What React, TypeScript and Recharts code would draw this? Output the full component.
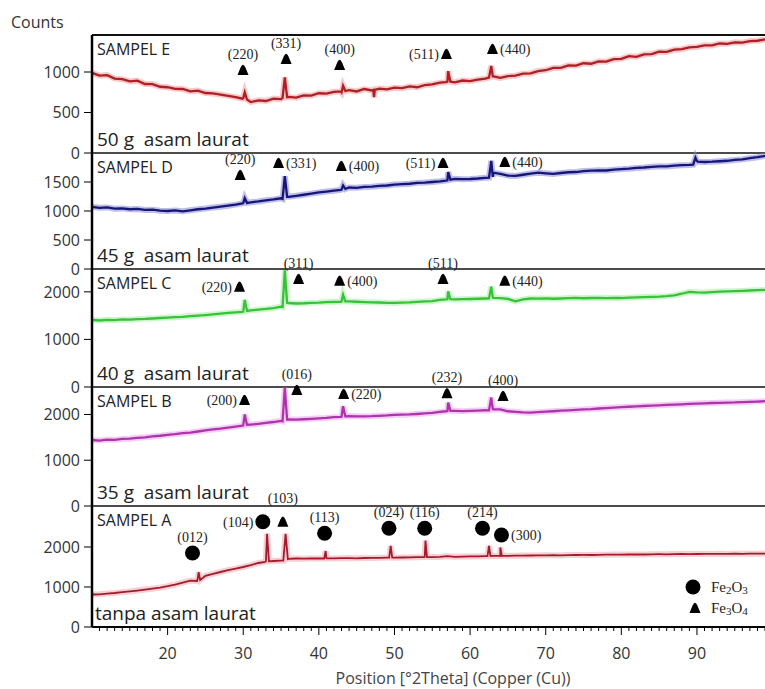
import React from "react";
import { ComposedChart, Line, Scatter, XAxis, YAxis, ReferenceLine } from "recharts";

// 2θ grid of the background readings (degrees)
const theta = [
  10, 11, 12, 13, 14, 15, 16, 17, 18, 19,
  20, 21, 22, 23, 24, 25, 26, 27, 28, 29,
  30, 31, 32, 33, 34, 35, 36, 37, 38, 39,
  40, 41, 42, 43, 44, 45, 46, 47, 48, 49,
  50, 51, 52, 53, 54, 55, 56, 57, 58, 59,
  60, 61, 62, 63, 64, 65, 66, 67, 68, 69,
  70, 71, 72, 73, 74, 75, 76, 77, 78, 79,
  80, 81, 82, 83, 84, 85, 86, 87, 88, 89,
  90, 91, 92, 93, 94, 95, 96, 97, 98, 99,
];

// background counts, one per theta value
const countsE = [
  990, 955, 962, 918, 912, 884, 893, 852, 851, 818,
  812, 792, 790, 762, 770, 741, 735, 722, 705, 690,
  676, 628, 650, 642, 672, 665, 692, 683, 712, 708,
  738, 734, 756, 748, 775, 760, 790, 772, 795, 786,
  806, 800, 822, 812, 838, 846, 868, 882, 872, 895,
  888, 906, 918, 945, 928, 948, 955, 980, 982, 1012,
  1022, 1050, 1052, 1082, 1078, 1108, 1102, 1132, 1128, 1158,
  1162, 1195, 1188, 1218, 1222, 1250, 1248, 1276, 1282, 1305,
  1310, 1330, 1328, 1352, 1348, 1366, 1362, 1382, 1386, 1402,
];
const countsD = [
  1072, 1055, 1062, 1040, 1045, 1030, 1036, 1018, 1022, 1005,
  1000, 1010, 995, 1012, 1030, 1042, 1060, 1075, 1092, 1110,
  1135, 1150, 1165, 1185, 1200, 1220, 1245, 1262, 1280, 1300,
  1320, 1335, 1350, 1370, 1405, 1400, 1415, 1420, 1432, 1440,
  1455, 1462, 1470, 1485, 1490, 1500, 1512, 1530, 1555, 1548,
  1552, 1560, 1572, 1590, 1640, 1610, 1605, 1625, 1645, 1660,
  1650, 1640, 1655, 1668, 1672, 1688, 1695, 1702, 1698, 1712,
  1722, 1730, 1742, 1750, 1762, 1770, 1768, 1782, 1790, 1795,
  1860, 1845, 1850, 1858, 1866, 1880, 1890, 1910, 1928, 1950,
];
const countsC = [
  1410, 1398, 1412, 1405, 1420, 1415, 1428, 1432, 1440, 1450,
  1460, 1468, 1475, 1490, 1502, 1512, 1525, 1540, 1556, 1570,
  1585, 1610, 1625, 1640, 1660, 1690, 1765, 1755, 1760, 1770,
  1775, 1785, 1790, 1800, 1798, 1792, 1785, 1780, 1776, 1770,
  1768, 1775, 1780, 1790, 1798, 1805, 1830, 1845, 1840, 1845,
  1850, 1855, 1860, 1880, 1868, 1850, 1800, 1840, 1860, 1858,
  1862, 1855, 1860, 1868, 1872, 1865, 1870, 1875, 1868, 1872,
  1870, 1878, 1885, 1890, 1895, 1900, 1910, 1925, 1960, 2000,
  1990, 1985, 1995, 2005, 2010, 2015, 2020, 2028, 2035, 2040,
];
const countsB = [
  1442, 1430, 1450, 1445, 1465, 1470, 1490, 1500, 1520, 1535,
  1555, 1570, 1590, 1605, 1628, 1650, 1672, 1690, 1712, 1735,
  1760, 1780, 1795, 1815, 1835, 1860, 1890, 1888, 1895, 1905,
  1915, 1925, 1940, 1950, 1965, 1960, 1958, 1962, 1970, 1978,
  1990, 1995, 2000, 2010, 2022, 2035, 2055, 2075, 2080, 2072,
  2080, 2085, 2092, 2120, 2110, 2070, 2058, 2045, 2040, 2050,
  2060, 2070, 2082, 2090, 2100, 2110, 2118, 2130, 2140, 2150,
  2160, 2168, 2175, 2185, 2192, 2200, 2208, 2215, 2222, 2230,
  2238, 2244, 2250, 2255, 2260, 2262, 2268, 2275, 2282, 2290,
];
const countsA = [
  812, 818, 835, 850, 872, 890, 912, 935, 958, 985,
  1020, 1060, 1110, 1160, 1230, 1280, 1330, 1375, 1420, 1460,
  1500, 1545, 1600, 1640, 1650, 1660, 1705, 1712, 1708, 1715,
  1712, 1718, 1715, 1720, 1722, 1718, 1725, 1728, 1730, 1735,
  1732, 1738, 1740, 1745, 1750, 1748, 1752, 1770, 1755, 1760,
  1765, 1768, 1770, 1778, 1775, 1780, 1782, 1785, 1788, 1790,
  1792, 1795, 1790, 1798, 1800, 1802, 1800, 1805, 1808, 1810,
  1810, 1812, 1815, 1812, 1818, 1820, 1818, 1822, 1825, 1822,
  1825, 1828, 1826, 1830, 1828, 1832, 1830, 1835, 1832, 1835,
];

// diffraction peaks [2θ, counts]
const peaksE = [
  [29.9, 670], [30.2, 750], [30.5, 660],
  [35.2, 680], [35.5, 935], [35.8, 690],
  [42.9, 760], [43.2, 830], [43.5, 765],
  [47.2, 780], [47.3, 690], [47.4, 780],
  [56.8, 875], [57.1, 1010], [57.4, 880],
  [62.5, 930], [62.8, 1075], [63.1, 945],
];
const peaksD = [
  [29.9, 1130], [30.2, 1220], [30.5, 1140],
  [35.2, 1210], [35.5, 1600], [35.8, 1245],
  [42.9, 1365], [43.2, 1440], [43.5, 1380],
  [56.8, 1525], [57.1, 1670], [57.4, 1540],
  [62.5, 1575], [62.8, 1865], [63.1, 1660],
  [89.5, 1800], [89.8, 1920], [90.1, 1850],
];
const peaksC = [
  [29.9, 1580], [30.2, 1830], [30.5, 1600],
  [35.2, 1680], [35.5, 2450], [35.8, 1770],
  [42.9, 1792], [43.2, 1940], [43.5, 1800],
  [56.8, 1840], [57.1, 2010], [57.4, 1845],
  [62.5, 1862], [62.8, 2110], [63.1, 1875],
];
const peaksB = [
  [29.9, 1755], [30.2, 2000], [30.5, 1775],
  [35.2, 1850], [35.5, 2580], [35.8, 1890],
  [42.9, 1945], [43.2, 2180], [43.5, 1960],
  [56.8, 2070], [57.1, 2260], [57.4, 2078],
  [62.5, 2090], [62.8, 2370], [63.1, 2110],
];
const peaksA = [
  [23.9, 1150], [24.1, 1370], [24.3, 1175],
  [32.9, 1625], [33.15, 2330], [33.4, 1642],
  [35.3, 1658], [35.6, 2330], [35.9, 1700],
  [40.7, 1712], [40.9, 1900], [41.1, 1716],
  [49.3, 1735], [49.5, 2030], [49.7, 1733],
  [53.9, 1748], [54.1, 2160], [54.3, 1750],
  [62.3, 1770], [62.5, 2030], [62.7, 1772],
  [63.8, 1776], [64.0, 1990], [64.2, 1778],
];

// phase markers: tri = Fe3O4, circ = Fe2O3
const markersE = [
  { x: 29.97, y: 1025, hkl: "(220)", kind: "tri", side: "top" },
  { x: 35.67, y: 1161, hkl: "(331)", kind: "tri", side: "top" },
  { x: 42.75, y: 1087, hkl: "(400)", kind: "tri", side: "top" },
  { x: 56.87, y: 1223, hkl: "(511)", kind: "tri", side: "left" },
  { x: 62.96, y: 1284, hkl: "(440)", kind: "tri", side: "right" },
];
const markersD = [
  { x: 29.6, y: 1621, hkl: "(220)", kind: "tri", side: "top" },
  { x: 34.67, y: 1828, hkl: "(331)", kind: "tri", side: "right" },
  { x: 42.97, y: 1776, hkl: "(400)", kind: "tri", side: "right" },
  { x: 56.42, y: 1828, hkl: "(511)", kind: "tri", side: "left" },
  { x: 64.59, y: 1845, hkl: "(440)", kind: "tri", side: "right" },
];
const markersC = [
  { x: 29.51, y: 2108, hkl: "(220)", kind: "tri", side: "left" },
  { x: 37.32, y: 2270, hkl: "(311)", kind: "tri", side: "top" },
  { x: 42.75, y: 2234, hkl: "(400)", kind: "tri", side: "right" },
  { x: 56.42, y: 2270, hkl: "(511)", kind: "tri", side: "top" },
  { x: 64.59, y: 2234, hkl: "(440)", kind: "tri", side: "right" },
];
const markersB = [
  { x: 30.17, y: 2316, hkl: "(200)", kind: "tri", side: "left" },
  { x: 37.09, y: 2535, hkl: "(016)", kind: "tri", side: "top" },
  { x: 43.28, y: 2447, hkl: "(220)", kind: "tri", side: "right" },
  { x: 56.95, y: 2462, hkl: "(232)", kind: "tri", side: "top" },
  { x: 64.36, y: 2404, hkl: "(400)", kind: "tri", side: "top" },
];
const markersA = [
  { x: 23.29, y: 1850, hkl: "(012)", kind: "circ", side: "top" },
  { x: 32.59, y: 2633, hkl: "(104)", kind: "circ", side: "left" },
  { x: 35.24, y: 2633, hkl: "(103)", kind: "tri", side: "high" },
  { x: 40.76, y: 2343, hkl: "(113)", kind: "circ", side: "top" },
  { x: 49.27, y: 2468, hkl: "(024)", kind: "circ", side: "top" },
  { x: 54.0, y: 2468, hkl: "(116)", kind: "circ", side: "top" },
  { x: 61.64, y: 2468, hkl: "(214)", kind: "circ", side: "top" },
  { x: 64.15, y: 2300, hkl: "(300)", kind: "circ", side: "right" },
];

const sampleNames = ["SAMPEL E", "SAMPEL D", "SAMPEL C", "SAMPEL B", "SAMPEL A"];
const sampleNotes = ["50 g  asam laurat", "45 g  asam laurat", "40 g  asam laurat", "35 g  asam laurat", "tanpa asam laurat"];
const yTicks = [[0, 500, 1000], [0, 500, 1000, 1500], [0, 1000, 2000], [0, 1000, 2000], [0, 1000, 2000]];
const yMaxes = [1457, 2000, 2480, 2600, 3025];
const xTicks = theta.slice(1);

const SANS = "'Open Sans', 'DejaVu Sans', sans-serif";
const SERIF = "'Liberation Serif', 'DejaVu Serif', serif";

const W = 765;
const PLOT_LEFT = 92;
const PAD_TOP = 30;
// pixel rows of each panel (top, bottom)
const rows = [
  [35, 153],
  [153, 269],
  [269, 387],
  [387, 506],
  [506, 627],
];

const buildSeries = (counts: number[], peaks: number[][]) =>
  [
    ...theta.map((t, i) => ({ x: t, y: counts[i] })),
    ...peaks.map(([x, y]) => ({ x, y })),
  ].sort((a, b) => a.x - b.x);

const Glyph = ({ cx, cy, kind }: { cx: number; cy: number; kind: string }) => {
  if (kind === "circ") return <circle cx={cx} cy={cy} r={7.5} fill="#000" />;
  return (
    <path
      d={`M${cx - 5.5},${cy + 5} L${cx + 5.5},${cy + 5} L${cx + 2.4},${cy - 2.5} Q${cx},${cy - 8} ${cx - 2.4},${cy - 2.5} Z`}
      fill="#000"
    />
  );
};

const MarkerShape = (props: any) => {
  const { cx, cy, payload } = props;
  if (cx == null || cy == null) return null;
  const half = payload.kind === "circ" ? 7.5 : 5.5;
  let tx = cx;
  let ty = cy - 11;
  let anchor: "middle" | "start" | "end" = "middle";
  if (payload.side === "high") ty = cy - 19;
  if (payload.side === "left") {
    tx = cx - half - 2;
    ty = cy + 5;
    anchor = "end";
  }
  if (payload.side === "right") {
    tx = cx + half + 2;
    ty = cy + 5;
    anchor = "start";
  }
  return (
    <g>
      <Glyph cx={cx} cy={cy} kind={payload.kind} />
      <text x={tx} y={ty} textAnchor={anchor} fontFamily={SERIF} fontSize={14} fill="#222">
        {payload.hkl}
      </text>
    </g>
  );
};

const XTick = (props: any) => {
  const { x, y, payload } = props;
  const major = payload.value % 10 === 0;
  return (
    <g>
      <line x1={x} x2={x} y1={y} y2={y + (major ? 8 : 4)} stroke="#000" strokeWidth={1} />
      {major && (
        <text x={x} y={y + 32} textAnchor="middle" fontFamily={SANS} fontSize={16} fill="#333">
          {payload.value}
        </text>
      )}
    </g>
  );
};

const panels = [
  { counts: countsE, peaks: peaksE, markers: markersE, color: "#b01e26", halo: "#f0a0a0" },
  { counts: countsD, peaks: peaksD, markers: markersD, color: "#16167a", halo: "#8888d6" },
  { counts: countsC, peaks: peaksC, markers: markersC, color: "#38c238", halo: "#a6eea6" },
  { counts: countsB, peaks: peaksB, markers: markersB, color: "#ae34ae", halo: "#eca6ec" },
  { counts: countsA, peaks: peaksA, markers: markersA, color: "#a41c2c", halo: "#eeaab2" },
];

const Panel = ({ idx }: { idx: number }) => {
  const p = panels[idx];
  const [top, bottom] = rows[idx];
  const last = idx === panels.length - 1;
  const padBottom = last ? 62 : 12;
  const height = bottom - top + PAD_TOP + padBottom;
  const series = buildSeries(p.counts, p.peaks);
  return (
    <div style={{ position: "absolute", left: 0, top: top - PAD_TOP }}>
      <ComposedChart
        width={W}
        height={height}
        margin={{ top: PAD_TOP, right: 0, bottom: last ? 0 : padBottom, left: 0 }}
        style={{ overflow: "visible" }}
      >
        <XAxis
          dataKey="x"
          type="number"
          domain={[10, 99]}
          hide={!last}
          ticks={xTicks}
          interval={0}
          height={62}
          tickSize={0}
          tickMargin={0}
          tickLine={false}
          tick={<XTick />}
          axisLine={{ stroke: "#000", strokeWidth: 2 }}
        />
        <YAxis
          type="number"
          domain={[0, yMaxes[idx]]}
          ticks={yTicks[idx]}
          interval={0}
          width={PLOT_LEFT}
          tickSize={8}
          tickMargin={4}
          tickLine={{ stroke: "#000" }}
          axisLine={{ stroke: "#000", strokeWidth: 2.5 }}
          tick={{ fontSize: 16, fill: "#333", fontFamily: SANS }}
        />
        <ReferenceLine y={yMaxes[idx]} stroke="#111" strokeWidth={idx === 0 ? 2 : 1.5} />
        <Line
          data={series}
          dataKey="y"
          stroke={p.halo}
          strokeWidth={6}
          strokeOpacity={0.55}
          dot={false}
          isAnimationActive={false}
        />
        <Line
          data={series}
          dataKey="y"
          stroke={p.color}
          strokeWidth={idx === 4 ? 1.8 : 2.3}
          dot={false}
          isAnimationActive={false}
        />
        <Scatter data={p.markers} dataKey="y" shape={MarkerShape} isAnimationActive={false} />
      </ComposedChart>
    </div>
  );
};

export default function App() {
  return (
    <div style={{ position: "absolute", left: 0, top: 0, width: W, height: 689, background: "#fff", overflow: "hidden" }}>
      {panels.map((_, i) => (
        <Panel key={i} idx={i} />
      ))}
      <svg width={W} height={689} style={{ position: "absolute", left: 0, top: 0, pointerEvents: "none" }}>
        <text x={11} y={28} fontFamily={SANS} fontSize={16} fill="#333">
          Counts
        </text>
        {rows.map(([top, bottom], i) => (
          <g key={i}>
            <text x={97} y={top + 20} fontFamily={SANS} fontSize={16} fill="#222">
              {sampleNames[i]}
            </text>
            <text
              x={i === 4 ? 95 : 97}
              y={bottom - 7}
              fontFamily={SANS}
              fontSize={19}
              fill="#222"
              style={{ whiteSpace: "pre" }}
            >
              {sampleNotes[i]}
            </text>
          </g>
        ))}
        <Glyph cx={693} cy={587} kind="circ" />
        <text x={711} y={592} fontFamily={SERIF} fontSize={15} fill="#222">
          Fe<tspan fontSize={11} dy={2}>2</tspan>
          <tspan dy={-2}>O</tspan>
          <tspan fontSize={11} dy={2}>3</tspan>
        </text>
        <Glyph cx={695} cy={608} kind="tri" />
        <text x={711} y={613} fontFamily={SERIF} fontSize={15} fill="#222">
          Fe<tspan fontSize={11} dy={2}>3</tspan>
          <tspan dy={-2}>O</tspan>
          <tspan fontSize={11} dy={2}>4</tspan>
        </text>
        <text x={453} y={684} textAnchor="middle" fontFamily={SANS} fontSize={16} fill="#444">
          Position [°2Theta] (Copper (Cu))
        </text>
      </svg>
    </div>
  );
}
